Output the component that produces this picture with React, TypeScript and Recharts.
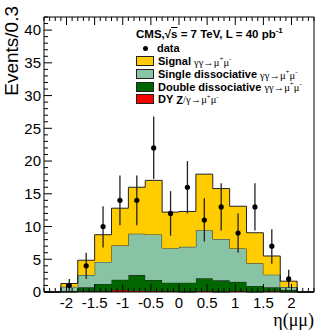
import React from 'react';
import { ComposedChart, Area, Scatter, ErrorBar, XAxis, YAxis, Legend } from 'recharts';

// histogram bins of 0.3 in eta, contents
const binEdges = [-2.4, -2.1, -1.8, -1.5, -1.2, -0.9, -0.6, -0.3, 0, 0.3, 0.6, 0.9, 1.2, 1.5, 1.8, 2.1, 2.4];
const signal = [0, 0.5, 2.25, 4.15, 5.7, 7.1, 8.25, 5.5, 5.4, 8.55, 7.7, 6.45, 4.65, 2.85, 0.9, 0];
const singleDiss = [0, 0.65, 1.88, 3.37, 5.22, 6.32, 6.95, 5.28, 5.48, 7.35, 6.32, 5.1, 3.48, 1.93, 0.4, 0];
const doubleDiss = [0, 0.15, 0.62, 1.13, 1.58, 2.38, 1.7, 1.32, 1.42, 1.95, 1.78, 1.4, 0.92, 0.57, 0.35, 0];
const dyZ = [0, 0, 0.1, 0.1, 0.3, 0.2, 0.15, 0.1, 0, 0.15, 0, 0.15, 0, 0.15, 0, 0];

// data points at bin centres
const dataEta = [-1.95, -1.65, -1.35, -1.05, -0.75, -0.45, -0.15, 0.15, 0.45, 0.75, 1.05, 1.35, 1.65, 1.95];
const dataEvents = [1, 4, 10, 14, 14, 22, 12, 16, 11, 13, 9, 13, 7, 2];
const errLow = [1, 2, 3.2, 3.8, 3.8, 4.75, 3.4, 4, 3.3, 3.6, 3, 3.6, 2.7, 1.4];
const errHigh = [1, 2, 3.1, 3.8, 3.8, 4.8, 3.4, 4, 3.3, 3.6, 3, 3.6, 2.6, 1.4];

const xMajor = [-2, -1.5, -1, -0.5, 0, 0.5, 1, 1.5, 2];
const xLabels = ['-2', '-1.5', '-1', '-0.5', '0', '0.5', '1', '1.5', '2'];
const yMajor = [0, 5, 10, 15, 20, 25, 30, 35, 40];
const yLabels = ['0', '5', '10', '15', '20', '25', '30', '35', '40'];

const xMinor = Array.from({ length: 49 }, (_, i) => +(-2.4 + i * 0.1).toFixed(1));
const yMinor = Array.from({ length: 43 }, (_, i) => i);

const histRows = binEdges.map((x, i) => {
  const b = Math.min(i, signal.length - 1);
  return { x, dy: dyZ[b], dbl: doubleDiss[b], sgl: singleDiss[b], sig: signal[b] };
});

const points = dataEta.map((x, i) => ({ x, y: dataEvents[i], err: [errLow[i], errHigh[i]] }));

const SANS = '"Liberation Sans", Arial, Helvetica, sans-serif';
const SERIF = '"Liberation Serif", "DejaVu Serif", serif';
const EDGE = '#222';

const majorIdx = (v: number, list: number[]) => list.findIndex((m) => Math.abs(m - v) < 1e-6);

const XTick = (props: any) => {
  const { x, y, payload, side } = props;
  const idx = majorIdx(payload.value, xMajor);
  const len = idx >= 0 ? 8 : 4;
  const dir = side === 'top' ? 1 : -1;
  return (
    <g>
      <line x1={x} y1={y} x2={x} y2={y + dir * len} stroke="#000" strokeWidth={1} />
      {side === 'bottom' && idx >= 0 && (
        <text x={x} y={y + 16} textAnchor="middle" fontFamily={SANS} fontSize={15} fill="#000">
          {xLabels[idx]}
        </text>
      )}
    </g>
  );
};

const YTick = (props: any) => {
  const { x, y, payload, side } = props;
  const idx = majorIdx(payload.value, yMajor);
  const len = idx >= 0 ? 8 : 4;
  const dir = side === 'right' ? -1 : 1;
  return (
    <g>
      <line x1={x} y1={y} x2={x + dir * len} y2={y} stroke="#000" strokeWidth={1} />
      {side === 'left' && idx >= 0 && (
        <text x={x - 3} y={y} dy="0.36em" textAnchor="end" fontFamily={SANS} fontSize={15} fill="#000">
          {yLabels[idx]}
        </text>
      )}
    </g>
  );
};

const Proc = ({ s }: { s: string }) => (
  <span style={{ fontFamily: SERIF, fontWeight: 400, fontSize: 10.5 }}>
    {s}→μ<sup style={{ fontSize: 7 }}>+</sup>μ<sup style={{ fontSize: 7 }}>-</sup>
  </span>
);

const rows = [
  { name: 'Signal', proc: 'γγ', color: '#ffcc00', top: 55 },
  { name: 'Single dissociative', proc: 'γγ', color: '#88c3a5', top: 68 },
  { name: 'Double dissociative', proc: 'γγ', color: '#006600', top: 80.5 },
  { name: 'DY', proc: 'Z/γ', color: '#ff0000', top: 93 },
];

const LegendBox = () => (
  <div style={{ position: 'relative', width: 332, height: 120, fontFamily: SANS, color: '#000' }}>
    <div style={{ position: 'absolute', left: 136, top: 25, fontSize: 11.5, fontWeight: 700, lineHeight: '12px', whiteSpace: 'nowrap' }}>
      CMS,√<span style={{ textDecoration: 'overline' }}>s</span> = 7 TeV, L = 40 pb<sup style={{ fontSize: 8 }}>-1</sup>
    </div>
    <div style={{ position: 'absolute', left: 142.5, top: 45.5, width: 5, height: 5, borderRadius: 3, background: '#000' }} />
    <div style={{ position: 'absolute', left: 157, top: 42, fontSize: 11, fontWeight: 700, lineHeight: '12px' }}>data</div>
    {rows.map((r) => (
      <div key={r.name} style={{ position: 'absolute', left: 136, top: r.top, height: 12, display: 'flex', alignItems: 'center', whiteSpace: 'nowrap' }}>
        <div style={{ width: 16, height: 8, background: r.color, border: `1px solid ${EDGE}`, marginRight: 4 }} />
        <span style={{ fontSize: 11, fontWeight: 700 }}>{r.name}&nbsp;</span>
        {r.name === 'DY' ? (
          <span style={{ fontSize: 11, fontWeight: 700 }}>
            Z<span style={{ fontFamily: SERIF, fontWeight: 400, fontSize: 10.5 }}>/γ→μ<sup style={{ fontSize: 7 }}>+</sup>μ<sup style={{ fontSize: 7 }}>-</sup></span>
          </span>
        ) : (
          <Proc s={r.proc} />
        )}
      </div>
    ))}
  </div>
);

export default function App() {
  return (
    <div style={{ position: 'absolute', left: 0, top: 0 }}>
      <ComposedChart width={332} height={336} data={histRows} margin={{ top: 12, right: 13, bottom: 0, left: 0 }}>
        <XAxis
          xAxisId="b"
          dataKey="x"
          type="number"
          domain={[-2.4, 2.4]}
          ticks={xMinor}
          interval={0}
          tickSize={0}
          tickMargin={0}
          height={44}
          axisLine={{ stroke: '#000' }}
          tickLine={false}
          tick={(p: any) => <XTick {...p} side="bottom" />}
          label={({ viewBox }: any) => (
            <text x={viewBox.x + viewBox.width} y={viewBox.y + 34} textAnchor="end" fontFamily={SERIF} fontSize={18} fill="#000">
              η(μμ)
            </text>
          )}
        />
        <XAxis
          xAxisId="t"
          orientation="top"
          dataKey="x"
          type="number"
          domain={[-2.4, 2.4]}
          ticks={xMinor}
          interval={0}
          tickSize={0}
          tickMargin={0}
          height={5}
          axisLine={{ stroke: '#000' }}
          tickLine={false}
          tick={(p: any) => <XTick {...p} side="top" />}
        />
        <YAxis
          yAxisId="l"
          type="number"
          domain={[0, 42]}
          ticks={yMinor}
          interval={0}
          tickSize={0}
          tickMargin={0}
          width={44}
          axisLine={{ stroke: '#000' }}
          tickLine={false}
          tick={(p: any) => <YTick {...p} side="left" />}
          label={({ viewBox }: any) => (
            <text
              x={18}
              y={viewBox.y - 11}
              transform={`rotate(-90 18 ${viewBox.y - 11})`}
              textAnchor="end"
              fontFamily={SANS}
              fontSize={19}
              fill="#000"
            >
              Events/0.3
            </text>
          )}
        />
        <YAxis
          yAxisId="r"
          orientation="right"
          type="number"
          domain={[0, 42]}
          ticks={yMinor}
          interval={0}
          tickSize={0}
          tickMargin={0}
          width={5}
          axisLine={{ stroke: '#000' }}
          tickLine={false}
          tick={(p: any) => <YTick {...p} side="right" />}
        />
        <Area xAxisId="b" yAxisId="l" dataKey="dy" stackId="h" type="stepAfter" fill="#ff0000" fillOpacity={1} stroke={EDGE} strokeWidth={1} isAnimationActive={false} />
        <Area xAxisId="b" yAxisId="l" dataKey="dbl" stackId="h" type="stepAfter" fill="#006600" fillOpacity={1} stroke={EDGE} strokeWidth={1} isAnimationActive={false} />
        <Area xAxisId="b" yAxisId="l" dataKey="sgl" stackId="h" type="stepAfter" fill="#88c3a5" fillOpacity={1} stroke={EDGE} strokeWidth={1} isAnimationActive={false} />
        <Area xAxisId="b" yAxisId="l" dataKey="sig" stackId="h" type="stepAfter" fill="#ffcc00" fillOpacity={1} stroke={EDGE} strokeWidth={1} isAnimationActive={false} />
        <Scatter
          xAxisId="b"
          yAxisId="l"
          data={points}
          dataKey="y"
          fill="#000"
          isAnimationActive={false}
          shape={(p: any) => <circle cx={p.cx} cy={p.cy} r={2.6} fill="#000" />}
        >
          <ErrorBar dataKey="err" direction="y" width={0} stroke="#222" strokeWidth={1.3} />
        </Scatter>
        <Legend
          layout="vertical"
          align="center"
          verticalAlign="middle"
          wrapperStyle={{ left: 0, top: 0, width: 332, height: 120, pointerEvents: 'none' }}
          content={() => <LegendBox />}
        />
      </ComposedChart>
    </div>
  );
}
